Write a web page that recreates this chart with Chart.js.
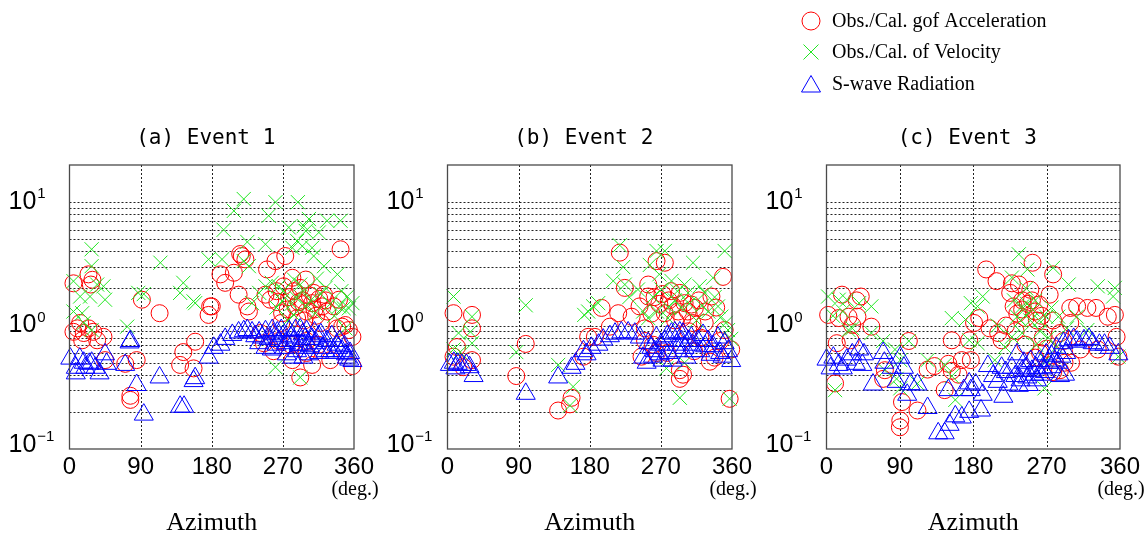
<!DOCTYPE html>
<html>
<head>
<meta charset="utf-8">
<script src="https://cdn.jsdelivr.net/npm/chart.js@4.4.0/dist/chart.umd.min.js"></script>
<style>
body { margin: 0; background: #fff; }
#wrap { position: relative; width: 1146px; height: 537px; overflow: hidden; }
canvas { position: absolute; top: 0; }
</style>
</head>
<body>
<div id="wrap">
<canvas id="ev1" width="380" height="537" style="left:0px"></canvas>
<canvas id="ev2" width="380" height="537" style="left:378px"></canvas>
<canvas id="ev3" width="389" height="537" style="left:757px"></canvas>
</div>
<script>
// [azimuth (deg), ratio]
const ev1Acc = [[5,2.2],[24,2.6],[27,2.15],[29,2.35],[5,0.89],[10,0.95],[13.5,1.05],[16,0.76],[18,0.87],[24,0.95],[30,0.89],[35,0.76],[43,0.81],
  [45,0.525],[70.5,0.49],[85,0.525],[77,0.27],[77,0.25],[91.6,1.62],[114,1.26],[140,0.48],[144,0.61],[157,0.45],[159,0.74],[176,1.22],[178,1.43],
  [180,1.43],[191,2.6],[197,2.22],[208,2.68],[214,1.78],[216,3.8],[218,3.66],[222.6,3.44],[225,1.43],[227,1.3],[241.6,0.87],[246,0.72],[248,1.78],
  [250,2.85],[254,1.62],[258,0.62],[260.6,3.33],[262,1.9],[265,0.75],[269,1.26],[271,2.08],[273,3.66],[278,1.7],[282,2.44],[282,0.525],[286,1.43],
  [288,1.15],[292,2.02],[292,0.38],[295,1.6],[299,2.36],[300,1.3],[300,0.6],[307,1.52],[307,0.48],[309,1.84],[312,1.2],[315,0.7],[316,1.65],
  [320,1.43],[322,1.78],[326,1.3],[330,0.525],[334.5,1.43],[338.7,0.95],[341,1.62],[343,4.15],[345,0.98],[349,1.01],[353.5,0.92],[358,0.81],[358,0.47],
  [263,1.55],[268,1.05],[276,1.35],[280,0.7],[284,1.9],[290,1.55],[297,1.1],[300,0.75],[304,1.75],[310,1.35],[318,1.05],[324,1.6]];
const ev1Vel = [[5,2.29],[5,1.3],[13.5,1.72],[16,1.26],[18,1.05],[26,1.72],[28,4.15],[28,3.03],[28,0.92],[35,2.15],[43,2.08],[45,1.62],[73,0.98],
  [87,1.84],[94,1.8],[115,3.23],[140,1.84],[144,2.22],[157,1.57],[159,1.52],[176,3.44],[193,3.44],[195,5.97],[208,8.5],[220.5,10.6],[220.5,3.33],
  [225,4.76],[227,3.03],[231,1.52],[240,1.84],[248,4.56],[248,2.08],[252,7.76],[256,2.22],[260.6,10],[260.6,0.46],[265,2.08],[269,1.58],[277.5,6.24],
  [282,4.27],[284,2.36],[284,1.22],[286,1.7],[288,4.85],[289,10],[292,2.15],[292,0.38],[294.5,4.4],[296.5,6.4],[299,5.84],[299.5,1.43],[303,7.3],
  [307,4.27],[309,3.66],[311,1.26],[315.5,5.68],[322,3.03],[324,2.02],[326,7.07],[339,2.6],[341,1.43],[343,7.07],[347,1.38],[349,0.95],[351.5,1.72],
  [353.5,1.38],[358,1.52],[262,1.4],[270,1.9],[276,1.1],[281,1.5],[296,1.9],[305,1.6],[313,2.4],[318,1.8],[330,1.5],[335,1.2],[344,1.9]];
const ev1Rad = [[1,0.54],[8,0.455],[8,0.41],[13,0.54],[18,0.5],[20,0.455],[25,0.49],[28,0.5],[33,0.455],[38,0.41],[45,0.585],[47,0.49],[70.5,0.48],
  [76,0.73],[77,0.75],[85,0.33],[94,0.19],[114,0.38],[140,0.22],[145,0.22],[157,0.355],[159,0.375],[176,0.55],[182.5,0.66],[191,0.7],[197,0.78],
  [206,0.84],[214,0.88],[220.5,0.9],[225,0.92],[231,0.88],[235,0.82],[240,0.88],[240,0.72],[248,0.9],[248,0.66],[256,0.64],[256.5,0.92],[262,0.7],
  [263,0.88],[265,0.75],[270,0.82],[272,0.66],[275,0.585],[278,0.9],[282,0.55],[284,0.75],[286,0.92],[290,0.7],[292,0.93],[295,0.85],[296,0.55],
  [299,0.66],[300,0.9],[303,0.585],[307,0.78],[310,0.88],[315.5,0.82],[316,0.6],[320,0.66],[326,0.75],[330,0.62],[332,0.82],[338,0.7],[342,0.75],
  [345,0.62],[350,0.585],[351,0.55],[355,0.6],[358,0.516],[244,0.8],[252,0.78],[258,0.85],[268,0.92],[274,0.72],[280,0.8],[288,0.62],[294,0.7],
  [298,0.78],[304,0.68],[312,0.72],[318,0.85],[324,0.62],[336,0.6],[340,0.66],[348,0.68],[354,0.53]];

const ev2Acc = [[7.6,1.26],[7.6,0.56],[12,0.67],[20,0.46],[31,1.22],[31,0.95],[31,0.525],[87,0.39],[99,0.71],[140,0.205],[155,0.23],[157,0.26],
  [172,0.56],[178,0.81],[186.5,0.81],[195,1.39],[205.5,0.98],[216,1.26],[218,3.9],[224.4,2.02],[233,1.18],[243,1.43],[245.5,0.56],[249.7,0.95],
  [250,0.75],[254,2.15],[254,1.72],[262,1.7],[264.5,3.33],[265,0.6],[268,1.5],[275,3.23],[275,1.26],[280,1.6],[283,1.9],[288,1.1],[292,1.3],
  [294,1.84],[294,0.435],[294,0.37],[298,0.4],[300,1.52],[305,0.9],[308.6,1.48],[313,1.39],[318,1.6],[320,0.8],[325.5,1.05],[332,0.51],[334,1.72],
  [340,1.4],[345,0.75],[348.6,2.48],[350.7,0.92],[357,0.255],[359,0.64],[258,1.25],[272,1.8],[285,1.45],[297,1.15],[304,1.3],[310,1.05],[326,1.3],
  [260,0.7],[278,0.6],[312,0.62],[338,0.55]];
const ev2Vel = [[7.6,1.72],[7.6,0.64],[14,0.87],[16,0.61],[29,0.89],[31,1.18],[31,0.72],[87,0.61],[99,1.46],[140,0.48],[155,0.225],[159,0.32],
  [173,1.22],[178,1.3],[184.4,1.43],[190.7,1.52],[209.7,2.3],[218,4.47],[222.3,2.98],[224.4,2.15],[230,1.7],[241,1.96],[247.6,1.3],[254,1.15],
  [256,3.1],[260,1.7],[264.5,4.02],[265,1.3],[270.7,1.96],[275,4.02],[277,0.45],[279,1.15],[283.4,2.3],[287.6,1.6],[294,0.26],[296,1.39],[300,2.15],
  [300,0.5],[304.4,1.84],[310.7,3.23],[315,1.1],[319,2.08],[325.5,1.84],[330,1.3],[336,2.44],[342.3,1.43],[346.5,1.18],[350.7,4.02],[355,0.92],
  [357,0.255],[359,0.78],[268,2.6],[280,1.4],[291,1.9],[306,1.5],[322,1.45],[338,1.7],[352,1.05]];
const ev2Rad = [[3,0.48],[8,0.5],[10,0.45],[13,0.49],[18,0.48],[24,0.48],[28,0.46],[33,0.39],[99,0.28],[140,0.38],[157,0.455],[162,0.49],[172,0.62],
  [176,0.585],[182,0.66],[191,0.7],[197,0.77],[205.5,0.82],[212,0.86],[220,0.88],[228.6,0.88],[237,0.86],[243.4,0.8],[247.6,0.55],[252,0.5],
  [258,0.66],[260,0.56],[264.4,0.8],[268.6,0.585],[270,0.7],[275,0.75],[280,0.6],[283.4,0.86],[285,0.52],[287.6,0.88],[290,0.7],[294,0.88],
  [298,0.86],[300,0.66],[302.3,0.55],[305,0.75],[308.6,0.8],[312,0.62],[317,0.75],[323.4,0.84],[329.7,0.75],[336,0.68],[342.3,0.8],[345,0.6],
  [350.7,0.72],[355,0.62],[359,0.516],[254,0.72],[262,0.62],[272,0.52],[278,0.82],[292,0.62],[296,0.75],[310,0.7],[320,0.62],[326,0.68],[333,0.58],[348,0.56]];

const ev3Acc = [[2,1.22],[10.5,0.34],[12.6,0.72],[15,1.15],[19,1.78],[27,1.18],[29.5,0.76],[31.6,1.01],[37,1.6],[38,1.18],[42,1.72],[55,0.98],
  [69.5,0.37],[71.6,0.435],[90,0.15],[90.5,0.17],[92.6,0.24],[101,0.75],[111.6,0.205],[124,0.44],[132.6,0.47],[145,0.3],[149.5,0.49],[153.7,0.43],
  [153.7,0.76],[162,0.4],[166,0.525],[175,0.76],[177,0.525],[181,1.05],[187.4,1.15],[195.9,2.85],[200,0.95],[208.5,2.29],[210.6,0.87],[214.8,0.76],
  [220,1.0],[225.3,1.84],[227.4,2.2],[229.5,1.43],[232,0.9],[236,2.15],[240,1.6],[240,1.35],[247,1.5],[252,1.6],[252.7,3.23],[258,1.1],[261,1.48],
  [265.3,0.8],[270,0.65],[273.7,1.78],[278,2.6],[278,1.1],[278,0.42],[286.4,0.87],[286.4,0.435],[290.6,0.75],[299,1.39],[299,1.05],[300,0.5],
  [307.4,1.43],[311.6,0.64],[320,1.39],[330.6,1.39],[332.7,0.64],[345,1.18],[353.7,1.22],[355.8,0.81],[358,0.56],
  [234,1.25],[244,1.15],[250,1.95],[256,1.3],[264,1.2],[244,0.7],[256,0.55],[262,0.6],[292,0.5]];
const ev3Vel = [[2,1.72],[8,1.2],[10.5,0.3],[15,1.62],[20,1.3],[25,1.62],[27,0.92],[31.6,0.95],[40,1.52],[55,1.43],[55,0.87],[69.5,0.75],
  [71.6,0.435],[84,0.64],[86,0.37],[90.5,0.525],[90.5,0.31],[101,0.75],[111.6,0.34],[124,0.525],[145,0.48],[153.7,1.15],[153.7,0.39],[158,0.25],
  [170.5,1.12],[177,1.52],[175,0.76],[185.3,1.43],[185.3,0.72],[191.6,1.72],[206.4,0.525],[210,1.0],[219,0.67],[227.4,2.45],[227.4,0.81],[230,1.6],
  [233.7,1.18],[235.9,3.78],[240,1.43],[240,0.87],[245,2.0],[246,1.5],[246.4,2.85],[252.7,1.35],[257,0.7],[261,1.1],[262,0.9],[267.4,0.31],
  [269.5,1.18],[269.5,0.525],[278,2.94],[282,0.67],[284.3,1.18],[294.8,0.95],[297,2.15],[307,1.18],[320,0.92],[332.7,2.08],[351.6,1.72],
  [353.7,2.02],[358,0.56],[238,1.1],[250,1.1],[256,1.6],[272,0.8],[276,1.4]];
const ev3Rad = [[0,0.53],[5,0.45],[8.4,0.55],[15,0.48],[20,0.45],[25,0.53],[31.6,0.585],[36,0.49],[40,0.64],[44,0.48],[46,0.585],[57,0.333],
  [69.5,0.6],[71,0.5],[80,0.455],[86,0.35],[90.5,0.55],[95,0.455],[99,0.275],[103,0.335],[111.6,0.333],[124,0.215],[137,0.134],[145,0.134],
  [149.5,0.3],[151,0.157],[158,0.184],[166,0.18],[168.4,0.3],[175,0.2],[175,0.34],[177,0.3],[183,0.333],[189.5,0.205],[191.6,0.275],[198,0.47],
  [204.3,0.39],[210,0.35],[214.8,0.455],[216.9,0.265],[220,0.42],[223.2,0.333],[227.4,0.455],[231.6,0.39],[233.7,0.585],[235.9,0.325],[240,0.43],
  [242,0.5],[246.4,0.38],[250.6,0.516],[255,0.4],[257,0.455],[261,0.516],[265,0.45],[269.5,0.585],[275.8,0.57],[282,0.66],[286.4,0.39],
  [290.6,0.72],[292.6,0.4],[297,0.76],[303.2,0.78],[307.4,0.74],[315.8,0.76],[322,0.78],[326.4,0.72],[334.8,0.7],[341,0.7],[347.4,0.66],[358,0.585],
  [238,0.36],[244,0.45],[248,0.33],[252,0.43],[258,0.36],[263,0.4],[268,0.42],[272,0.5],[276,0.46],[280,0.52],[284,0.5],[288,0.56],[294,0.6]];

const azTicks = [0, 90, 180, 270, 360];
const gridVals = [0.2,0.3,0.4,0.5,0.6,0.7,0.8,0.9,1,2,3,4,5,6,7,8,9,10];
const yLabels = [[10, '10', '1'], [1, '10', '0'], [0.1, '10', '\u22121']];
const titles = ['(a) Event 1', '(b) Event 2', '(c) Event 3'];
const seriesNames = ['Obs./Cal. gof Acceleration', 'Obs./Cal. of Velocity', 'S-wave Radiation'];

const RED = '#ff0000', GREEN = '#22e622', BLUE = '#0000ff';
const SANS = '"Liberation Sans", Arial, sans-serif';
const SERIF = '"Liberation Serif", "Times New Roman", serif';

function drawMarker(ctx, kind, x, y) {
  ctx.beginPath();
  if (kind == 0) {
    ctx.arc(x, y, 9, 0, Math.PI * 2);
  } else if (kind == 1) {
    ctx.moveTo(x - 7.5, y - 7.5); ctx.lineTo(x + 7.5, y + 7.5);
    ctx.moveTo(x + 7.5, y - 7.5); ctx.lineTo(x - 7.5, y + 7.5);
  } else {
    ctx.moveTo(x, y - 8.5); ctx.lineTo(x + 9.5, y + 8); ctx.lineTo(x - 9.5, y + 8); ctx.closePath();
  }
  ctx.stroke();
}

// dotted grid like the original plot
const dotGrid = {
  id: 'dotGrid',
  beforeDatasetsDraw(chart) {
    const ctx = chart.ctx, a = chart.chartArea;
    const xs = chart.scales.x, ys = chart.scales.y;
    ctx.save();
    ctx.strokeStyle = '#222';
    ctx.lineWidth = 1;
    ctx.setLineDash([2, 2]);
    ctx.beginPath();
    gridVals.forEach(v => {
      const y = Math.round(ys.getPixelForValue(v)) + 0.5;
      ctx.moveTo(a.left, y); ctx.lineTo(a.right, y);
    });
    azTicks.slice(1, -1).forEach(v => {
      const x = Math.round(xs.getPixelForValue(v)) + 0.5;
      ctx.moveTo(x, a.top); ctx.lineTo(x, a.bottom);
    });
    ctx.stroke();
    ctx.restore();
  }
};

const decor = {
  id: 'decor',
  afterDraw(chart, args, opts) {
    const ctx = chart.ctx, a = chart.chartArea, ys = chart.scales.y;
    ctx.save();
    ctx.strokeStyle = '#4a4a4a';
    ctx.lineWidth = 1.3;
    ctx.strokeRect(a.left, a.top, a.right - a.left, a.bottom - a.top);

    ctx.fillStyle = '#000';
    ctx.textBaseline = 'middle';
    ctx.textAlign = 'left';
    yLabels.forEach(([v, base, exp]) => {
      let y = ys.getPixelForValue(v);
      if (v === 0.1) y -= 4;
      const x = a.left - 61;
      ctx.font = '25px ' + SANS;
      ctx.fillText(base, x, y);
      const w = ctx.measureText(base).width;
      ctx.font = '15px ' + SANS;
      ctx.fillText(exp, x + w + 1, y - 8);
    });

    const cx = (a.left + a.right) / 2;
    ctx.textAlign = 'center';
    ctx.font = '21px "DejaVu Sans Mono", monospace';
    ctx.fillText(opts.title, cx - 6, 139);
    ctx.font = '20px ' + SERIF;
    ctx.fillText('(deg.)', a.right + 1, 490);
    ctx.font = '26px ' + SERIF;
    ctx.fillText('Azimuth', cx, 523);

    if (opts.legend) {
      const colors = [RED, GREEN, BLUE];
      const rows = [21, 52, 84];
      ctx.lineWidth = 1;
      ctx.textAlign = 'left';
      ctx.font = '20px ' + SERIF;
      seriesNames.forEach((name, i) => {
        ctx.strokeStyle = colors[i];
        drawMarker(ctx, i, 54, rows[i]);
        ctx.fillStyle = '#000';
        ctx.fillText(name, 75, rows[i] + 1);
      });
    }
    ctx.restore();
  }
};

function pts(list) {
  return list.map(p => ({x: p[0], y: p[1]}));
}

function makeChart(id, title, acc, vel, rad, legend) {
  const ctx = document.getElementById(id).getContext('2d');
  return new Chart(ctx, {
    type: 'scatter',
    data: {
      datasets: [
        {label: seriesNames[2], data: pts(rad), order: 1, clip: false,
         pointStyle: 'triangle', radius: 11, borderColor: BLUE, backgroundColor: 'rgba(0,0,0,0)', borderWidth: 1},
        {label: seriesNames[1], data: pts(vel), order: 2, clip: false,
         pointStyle: 'crossRot', radius: 10, borderColor: GREEN, backgroundColor: 'rgba(0,0,0,0)', borderWidth: 1},
        {label: seriesNames[0], data: pts(acc), order: 3, clip: false,
         pointStyle: 'circle', radius: 8.5, borderColor: RED, backgroundColor: 'rgba(0,0,0,0)', borderWidth: 1}
      ]
    },
    options: {
      responsive: false,
      animation: false,
      events: [],
      layout: {padding: {top: 165, right: 26, bottom: 0, left: 0}},
      plugins: {
        legend: {display: false},
        tooltip: {enabled: false},
        decor: {title: title, legend: legend}
      },
      scales: {
        x: {
          type: 'linear', min: 0, max: 360,
          afterBuildTicks: s => { s.ticks = azTicks.map(v => ({value: v})); },
          afterFit: s => { s.height = 88; },
          ticks: {color: '#000', font: {size: 24, family: SANS}, padding: 4, maxRotation: 0},
          grid: {display: false, drawTicks: false},
          border: {display: false}
        },
        y: {
          type: 'logarithmic', min: 0.1, max: 20,
          afterFit: s => { s.width = 69.5; },
          ticks: {display: false},
          grid: {display: false, drawTicks: false},
          border: {display: false}
        }
      }
    },
    plugins: [dotGrid, decor]
  });
}

makeChart('ev1', titles[0], ev1Acc, ev1Vel, ev1Rad, false);
makeChart('ev2', titles[1], ev2Acc, ev2Vel, ev2Rad, false);
makeChart('ev3', titles[2], ev3Acc, ev3Vel, ev3Rad, true);
</script>
</body>
</html>
